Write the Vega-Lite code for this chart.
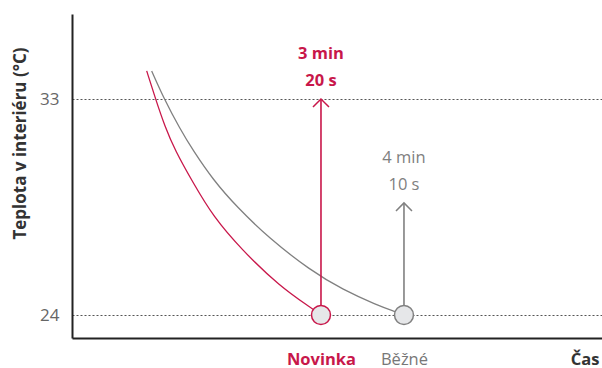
{
  "$schema": "https://vega.github.io/schema/vega-lite/v6.json",
  "autosize": "none",
  "width": 530,
  "height": 324,
  "padding": {"left": 72, "top": 14, "right": 0, "bottom": 30},
  "background": "white",
  "config": {"view": {"stroke": null}, "font": "Open Sans"},
  "datasets": {
    "curves": [
      {"series": "Novinka", "t": 95.0, "temp": 34.17},
      {"series": "Novinka", "t": 100.4, "temp": 32.99},
      {"series": "Novinka", "t": 106.0, "temp": 31.85},
      {"series": "Novinka", "t": 112.0, "temp": 30.87},
      {"series": "Novinka", "t": 123.1, "temp": 29.49},
      {"series": "Novinka", "t": 135.1, "temp": 28.1},
      {"series": "Novinka", "t": 151.8, "temp": 26.75},
      {"series": "Novinka", "t": 175.3, "temp": 25.18},
      {"series": "Novinka", "t": 194.4, "temp": 24.28},
      {"series": "Novinka", "t": 200, "temp": 24.0},
      {"series": "Běžné", "t": 98.0, "temp": 34.17},
      {"series": "Běžné", "t": 105.6, "temp": 32.99},
      {"series": "Běžné", "t": 115.1, "temp": 31.75},
      {"series": "Běžné", "t": 122.7, "temp": 30.88},
      {"series": "Běžné", "t": 135.1, "temp": 29.62},
      {"series": "Běžné", "t": 149.2, "temp": 28.51},
      {"series": "Běžné", "t": 168.7, "temp": 27.2},
      {"series": "Běžné", "t": 193.4, "temp": 25.87},
      {"series": "Běžné", "t": 213.4, "temp": 25.04},
      {"series": "Běžné", "t": 233.6, "temp": 24.42},
      {"series": "Běžné", "t": 244.6, "temp": 24.14},
      {"series": "Běžné", "t": 250, "temp": 24.0}
    ],
    "ends": [
      {"series": "Novinka", "t": 200, "temp": 24, "tip": 33},
      {"series": "Běžné", "t": 250, "temp": 24, "tip": 28.67}
    ],
    "labels": [
      {"series": "Novinka", "t": 200, "temp": 34.875, "label": "3 min"},
      {"series": "Novinka", "t": 200, "temp": 33.75, "label": "20 s"},
      {"series": "Běžné", "t": 250, "temp": 30.54, "label": "4 min"},
      {"series": "Běžné", "t": 250, "temp": 29.42, "label": "10 s"}
    ]
  },
  "layer": [
    {
      "data": {"name": "curves"},
      "mark": {"type": "line", "interpolate": "basis", "strokeWidth": 1.3},
      "encoding": {
        "x": {
          "field": "t", "type": "quantitative",
          "scale": {"domain": [50, 369.3], "nice": false, "zero": false},
          "axis": {
            "values": [200, 250],
            "grid": false,
            "ticks": false,
            "domainColor": "#222",
            "domainWidth": 2,
            "labelExpr": "datum.value == 200 ? 'Novinka' : 'Běžné'",
            "labelFontSize": 16.5,
            "labelPadding": 13,
            "labelColor": {"condition": {"test": "datum.value == 200", "value": "#c8174a"}, "value": "#777777"},
            "labelFontWeight": {"condition": {"test": "datum.value == 200", "value": "bold"}, "value": "normal"},
            "title": "Čas",
            "titleAnchor": "end",
            "titleAlign": "right",
            "titleX": 527,
            "titleFontSize": 16.5,
            "titleFontWeight": "bold",
            "titleColor": "#333333",
            "titlePadding": -16
          }
        },
        "y": {
          "field": "temp", "type": "quantitative",
          "scale": {"domain": [23.0417, 36.5417], "nice": false, "zero": false},
          "axis": {
            "values": [24, 33],
            "grid": true,
            "gridDash": [2, 2],
            "gridColor": "#555555",
            "gridWidth": 1,
            "ticks": false,
            "domainColor": "#222",
            "domainWidth": 2,
            "labelFontSize": 17,
            "labelColor": "#666666",
            "labelPadding": 13,
            "title": "Teplota v interiéru (°C)",
            "titleFontSize": 17,
            "titleFontWeight": "bold",
            "titleColor": "#333333",
            "titlePadding": 10,
            "titleY": 129
          }
        },
        "color": {
          "field": "series", "type": "nominal",
          "scale": {"domain": ["Novinka", "Běžné"], "range": ["#c8174a", "#808080"]},
          "legend": null
        }
      }
    },
    {
      "data": {"name": "ends"},
      "mark": {"type": "rule", "strokeWidth": 1.6},
      "encoding": {
        "x": {"field": "t", "type": "quantitative"},
        "y": {"field": "temp", "type": "quantitative"},
        "y2": {"field": "tip"},
        "color": {"field": "series", "type": "nominal", "legend": null}
      }
    },
    {
      "data": {"name": "ends"},
      "mark": {"type": "point", "shape": "M-1,1L0,0L1,1", "filled": false, "size": 256, "strokeWidth": 1.5, "opacity": 1},
      "encoding": {
        "x": {"field": "t", "type": "quantitative"},
        "y": {"field": "tip", "type": "quantitative"},
        "color": {"field": "series", "type": "nominal", "legend": null}
      }
    },
    {
      "data": {"name": "ends"},
      "mark": {"type": "point", "filled": false, "fill": "#e6e7e9", "fillOpacity": 1, "opacity": 1, "size": 360, "strokeWidth": 1.5},
      "encoding": {
        "x": {"field": "t", "type": "quantitative"},
        "y": {"field": "temp", "type": "quantitative"},
        "stroke": {"field": "series", "type": "nominal", "scale": {"domain": ["Novinka", "Běžné"], "range": ["#c8174a", "#808080"]}, "legend": null}
      }
    },
    {
      "data": {"name": "labels"},
      "transform": [{"filter": "datum.series == 'Novinka'"}],
      "mark": {"type": "text", "fontSize": 16.5, "fontWeight": "bold", "baseline": "middle", "align": "center"},
      "encoding": {
        "x": {"field": "t", "type": "quantitative"},
        "y": {"field": "temp", "type": "quantitative"},
        "text": {"field": "label"},
        "color": {"field": "series", "type": "nominal", "legend": null}
      }
    },
    {
      "data": {"name": "labels"},
      "transform": [{"filter": "datum.series == 'Běžné'"}],
      "mark": {"type": "text", "fontSize": 16.5, "fontWeight": "normal", "baseline": "middle", "align": "center"},
      "encoding": {
        "x": {"field": "t", "type": "quantitative"},
        "y": {"field": "temp", "type": "quantitative"},
        "text": {"field": "label"},
        "color": {"field": "series", "type": "nominal", "legend": null}
      }
    }
  ]
}
